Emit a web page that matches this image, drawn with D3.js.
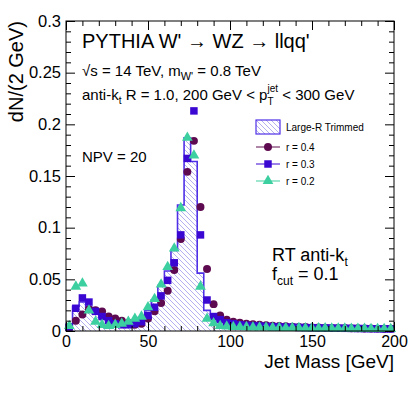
<!DOCTYPE html>
<html>
<head>
<meta charset="utf-8">
<script src="https://cdn.jsdelivr.net/npm/d3@7"></script>
<style>
  body { margin: 0; background: #fff; }
  svg text { font-family: "Liberation Sans", Arial, sans-serif; fill: #000; }
</style>
</head>
<body>
<div id="chart"></div>
<script>
// bin centres (4 GeV bins) and contents
const binCenters = [2, 6, 10, 14, 18, 22, 26, 30, 34, 38, 42, 46, 50, 54, 58, 62, 66, 70, 74, 78,
  82, 86, 90, 94, 98, 102, 106, 110, 114, 118, 122, 126, 130, 134, 138, 142, 146, 150, 154, 158,
  162, 166, 170, 174, 178, 182, 186, 190, 194, 198];

const trimmed = [0.006, 0.024, 0.028, 0.023, 0.017, 0.013, 0.010, 0.008, 0.007, 0.007,
  0.009, 0.013, 0.020, 0.030, 0.044, 0.058, 0.078, 0.122, 0.187, 0.164,
  0.056, 0.020, 0.013, 0.009, 0.007, 0.006, 0.0055, 0.005, 0.0048, 0.0045,
  0.0043, 0.004, 0.0038, 0.0036, 0.0034, 0.0032, 0.003, 0.003, 0.0028, 0.0027,
  0.0026, 0.0025, 0.0024, 0.0023, 0.0022, 0.0021, 0.002, 0.002, 0.0019, 0.0018];

const r04 = [0.003, 0.010, 0.016, 0.021, 0.020, 0.019, 0.014, 0.012, 0.010, 0.008,
  0.006, 0.007, 0.012, 0.019, 0.027, 0.039, 0.059, 0.089, 0.154, 0.184,
  0.120, 0.060, 0.026, 0.015, 0.011, 0.009, 0.008, 0.007, 0.0065, 0.006,
  0.0055, 0.005, 0.0048, 0.0045, 0.0042, 0.004, 0.0038, 0.0035, 0.0033, 0.0032,
  0.003, 0.0029, 0.0028, 0.0027, 0.0026, 0.0025, 0.0024, 0.0023, 0.0022, 0.0021];

const r03 = [0.004, 0.022, 0.032, 0.028, 0.019, 0.014, 0.010, 0.007, 0.006, 0.006,
  0.007, 0.009, 0.015, 0.023, 0.034, 0.049, 0.066, 0.093, 0.167, 0.213,
  0.093, 0.030, 0.014, 0.011, 0.008, 0.007, 0.006, 0.0055, 0.005, 0.0048,
  0.0045, 0.0042, 0.004, 0.0038, 0.0036, 0.0034, 0.0033, 0.0032, 0.003, 0.0029,
  0.0028, 0.0027, 0.0026, 0.0025, 0.0024, 0.0023, 0.0022, 0.0021, 0.002, 0.002];

const r02 = [0.005, 0.043, 0.046, 0.020, 0.009, 0.006, 0.005, 0.006, 0.007, 0.009,
  0.012, 0.014, 0.023, 0.031, 0.045, 0.062, 0.080, 0.119, 0.187, 0.170,
  0.043, 0.012, 0.0075, 0.005, 0.0045, 0.004, 0.004, 0.0038, 0.0036, 0.0035,
  0.0034, 0.0033, 0.0032, 0.003, 0.003, 0.0029, 0.0028, 0.0027, 0.0026, 0.0026,
  0.0025, 0.0024, 0.0024, 0.0023, 0.0022, 0.0022, 0.0021, 0.0021, 0.002, 0.002];

const xMajor = [0, 50, 100, 150, 200];
const xMinor = [10, 20, 30, 40, 60, 70, 80, 90, 110, 120, 130, 140, 160, 170, 180, 190];
const yMajor = [0, 0.05, 0.1, 0.15, 0.2, 0.25, 0.3];
const yMinor = [0.01, 0.02, 0.03, 0.04, 0.06, 0.07, 0.08, 0.09, 0.11, 0.12, 0.13, 0.14,
  0.16, 0.17, 0.18, 0.19, 0.21, 0.22, 0.23, 0.24, 0.26, 0.27, 0.28, 0.29];

const binWidth = 4;

const W = 415, H = 395;
const plotLeft = 66, plotRight = 394, plotTop = 21, plotBottom = 331;

const svg = d3.select("#chart").append("svg")
    .attr("width", W)
    .attr("height", H);

const x = d3.scaleLinear().domain([0, 200]).range([plotLeft, plotRight]);
const y = d3.scaleLinear().domain([0, 0.3]).range([plotBottom, plotTop]);

const histColor = "#4f30e6";
const colR04 = "#5e0a50";
const colR03 = "#3a06d2";
const colR02 = "#3ccf9f";

// hatch pattern
const defs = svg.append("defs");
const pat = defs.append("pattern")
    .attr("id", "hatch")
    .attr("patternUnits", "userSpaceOnUse")
    .attr("width", 5)
    .attr("height", 5);
pat.append("path")
    .attr("d", "M0,0 L5,5 M-1,4 L1,6 M4,-1 L6,1")
    .attr("stroke", "#7f78e6")
    .attr("stroke-width", 0.6);

// histogram
const steps = [];
binCenters.forEach((c, i) => {
    steps.push({x: c - binWidth / 2, v: trimmed[i]});
    steps.push({x: c + binWidth / 2, v: trimmed[i]});
});

svg.append("path")
    .attr("d", d3.area().x(d => x(d.x)).y0(y(0)).y1(d => y(d.v))(steps))
    .attr("fill", "url(#hatch)");

const outline = [{x: 0, v: 0}].concat(steps, [{x: 200, v: 0}]);
svg.append("path")
    .attr("d", d3.line().x(d => x(d.x)).y(d => y(d.v))(outline))
    .attr("fill", "none")
    .attr("stroke", histColor)
    .attr("stroke-width", 1.6);

// markers
const series = [
    {name: "r = 0.4", values: r04, symbol: d3.symbolCircle, size: 50, color: colR04},
    {name: "r = 0.3", values: r03, symbol: d3.symbolSquare, size: 56, color: colR03},
    {name: "r = 0.2", values: r02, symbol: d3.symbolTriangle, size: 50, color: colR02}
];

series.forEach(s => {
    svg.append("g").selectAll("path")
        .data(s.values)
        .enter().append("path")
        .attr("transform", (d, i) => `translate(${x(binCenters[i])},${y(d)})`)
        .attr("d", d3.symbol().type(s.symbol).size(s.size))
        .attr("fill", s.color);
});

// axes, ticks inside on all four sides
function addAxis(axisFn, scale, tx, ty, ticks, size, labels, fontSize) {
    const g = svg.append("g")
        .attr("transform", `translate(${tx},${ty})`)
        .call(axisFn(scale).tickValues(ticks).tickSize(-size).tickPadding(labels ? 5 : 0)
            .tickFormat(labels ? d3.format("") : () => ""));
    g.select(".domain").remove();
    g.selectAll("line").attr("stroke", "#000");
    g.selectAll("text")
        .style("font-family", "Liberation Sans, Arial, sans-serif")
        .style("font-size", fontSize + "px")
        .attr("fill", "#000");
    return g;
}

addAxis(d3.axisBottom, x, 0, plotBottom, xMajor, 9, true, 16);
addAxis(d3.axisBottom, x, 0, plotBottom, xMinor, 5, false);
addAxis(d3.axisTop, x, 0, plotTop, xMajor, 9, false);
addAxis(d3.axisTop, x, 0, plotTop, xMinor, 5, false);
addAxis(d3.axisLeft, y, plotLeft, 0, yMajor, 9, true, 16.5);
addAxis(d3.axisLeft, y, plotLeft, 0, yMinor, 5, false);
addAxis(d3.axisRight, y, plotRight, 0, yMajor, 9, false);
addAxis(d3.axisRight, y, plotRight, 0, yMinor, 5, false);

svg.append("rect")
    .attr("x", plotLeft).attr("y", plotTop)
    .attr("width", plotRight - plotLeft).attr("height", plotBottom - plotTop)
    .attr("fill", "none").attr("stroke", "#000");

// axis titles
svg.append("text")
    .attr("x", plotRight).attr("y", 368)
    .attr("text-anchor", "end")
    .style("font-size", "19px")
    .text("Jet Mass [GeV]");

svg.append("text")
    .attr("transform", `translate(23,${plotTop}) rotate(-90)`)
    .attr("text-anchor", "end")
    .style("font-size", "20px")
    .text("dN/(2 GeV)");

// annotations
const title = svg.append("text").attr("x", 82).attr("y", 48).style("font-size", "20px");
title.text("PYTHIA W' \u2192 WZ \u2192 llqq'");

const l2 = svg.append("text").attr("x", 82).attr("y", 76).style("font-size", "15px");
l2.append("tspan").text("\u221As = 14 TeV, m");
l2.append("tspan").attr("dy", 4).style("font-size", "11px").text("W'");
l2.append("tspan").attr("dy", -4).text(" = 0.8 TeV");

const l3 = svg.append("text").attr("x", 82).attr("y", 100).style("font-size", "15px");
l3.append("tspan").text("anti-k");
l3.append("tspan").attr("dy", 4).style("font-size", "10px").text("t");
l3.append("tspan").attr("dy", -4).text(" R = 1.0, 200 GeV < p");
l3.append("tspan").attr("dy", 5).style("font-size", "10px").text("T");
l3.append("tspan").attr("dx", -6).attr("dy", -13).style("font-size", "10px").text("jet");
l3.append("tspan").attr("dy", 8).text(" < 300 GeV");

svg.append("text").attr("x", 82).attr("y", 162).style("font-size", "15px").text("NPV = 20");

const rt = svg.append("text").attr("x", 272).attr("y", 261).style("font-size", "18px");
rt.append("tspan").text("RT anti-k");
rt.append("tspan").attr("dy", 5).style("font-size", "12px").text("t");

const fc = svg.append("text").attr("x", 272).attr("y", 280).style("font-size", "18px");
fc.append("tspan").text("f");
fc.append("tspan").attr("dy", 5).style("font-size", "12px").text("cut");
fc.append("tspan").attr("dy", -5).text(" = 0.1");

// legend
const legend = svg.append("g").attr("transform", "translate(256,120)");
legend.append("rect")
    .attr("width", 24).attr("height", 14)
    .attr("fill", "url(#hatch)")
    .attr("stroke", histColor)
    .attr("stroke-width", 1.2);
legend.append("text")
    .attr("x", 30).attr("y", 11)
    .style("font-size", "10px")
    .text("Large-R Trimmed");

series.forEach((s, i) => {
    const row = legend.append("g").attr("transform", `translate(0,${27 + i * 17})`);
    row.append("line")
        .attr("x1", 0).attr("x2", 24)
        .attr("stroke", s.color).attr("stroke-width", 1);
    row.append("path")
        .attr("transform", "translate(12,0)")
        .attr("d", d3.symbol().type(s.symbol).size(s.size))
        .attr("fill", s.color);
    row.append("text")
        .attr("x", 30).attr("y", 4)
        .style("font-size", "10px")
        .text(s.name);
});
</script>
</body>
</html>
